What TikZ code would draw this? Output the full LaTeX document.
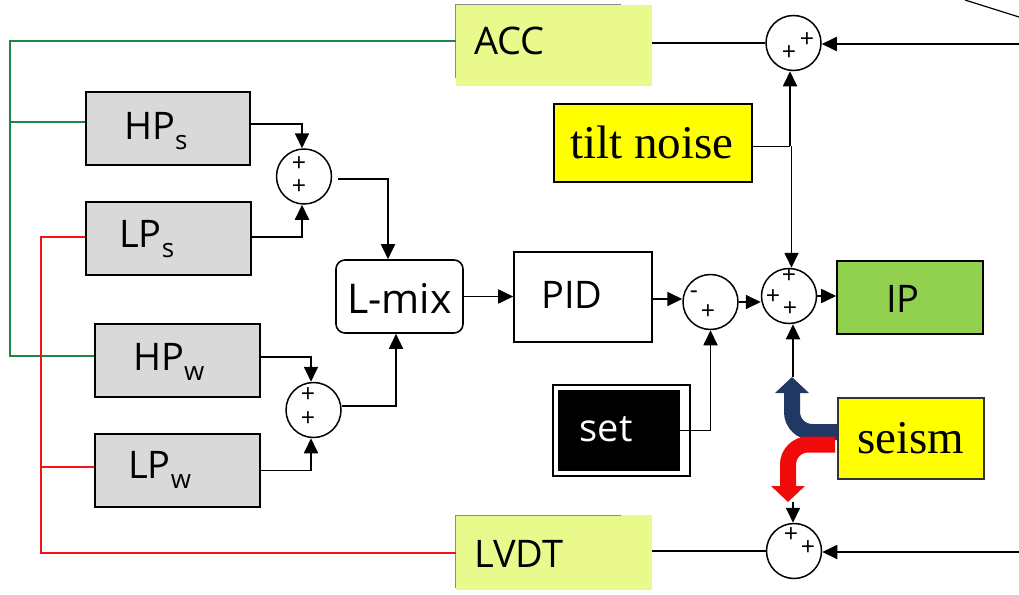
\documentclass[tikz,border=0pt]{standalone}
\usepackage{fontspec}
\setmainfont{Liberation Serif}
\setsansfont{Open Sans}
\usetikzlibrary{arrows.meta}
\definecolor{accol}{RGB}{234,249,140}
\definecolor{grcol}{RGB}{217,217,217}
\definecolor{ipcol}{RGB}{146,208,80}
\definecolor{yelcol}{RGB}{255,255,0}
\definecolor{grnline}{RGB}{30,135,70}
\definecolor{redline}{RGB}{240,20,20}
\definecolor{bluearr}{RGB}{31,56,100}
\definecolor{redarr}{RGB}{240,10,10}
\newcommand\mysub[1]{\raisebox{-10pt}{\fontsize{26}{26}\selectfont #1}}
\begin{document}
\begin{tikzpicture}[x=1pt,y=-1pt,
  conn/.style={line width=1.8pt,-{Triangle[length=15pt,width=14pt]}},
  plainln/.style={line width=1.8pt},
  box/.style={draw,line width=1.6pt,inner sep=0pt},
  sumc/.style={circle,draw,line width=1.5pt,minimum size=55pt,inner sep=0pt,fill=white},
  sg/.style={font=\sffamily\fontsize{25}{25}\selectfont,inner sep=0pt},
  sans/.style={inner sep=0pt,font=\sffamily\fontsize{38}{40}\selectfont},
  serif/.style={inner sep=0pt,font=\rmfamily\fontsize{47}{50}\selectfont},
  grnl/.style={draw=grnline,line width=1.4pt},
  redl/.style={draw=redline,line width=1.4pt},
  faint/.style={draw=black!45,line width=0.8pt},
  seisarrow/.style={line width=16pt,rounded corners=20pt,-{Triangle[length=16pt,width=33pt]}}
]
\useasboundingbox (0,0) rectangle (1019,594);
\fill[white] (0,0) rectangle (1019,594);

% sensor boxes
\node[fill=accol,inner sep=0pt,minimum width=196pt,minimum height=81pt] (ACC) at (554,45.5) {};
\node[fill=accol,inner sep=0pt,minimum width=196pt,minimum height=75pt] (LVDT) at (554,552.5) {};
\draw[faint] (455,78) -- (455,4) -- (621,4);
\draw[faint] (455,588) -- (455,515) -- (621,515);
\node[sans,anchor=base west] (ACCt) at (474,55) {ACC};
\node[sans,anchor=base west] (LVDTt) at (474,567) {LVDT};

% filter boxes
\node[box,fill=grcol,minimum width=164pt,minimum height=73pt] (HPs) at (168,128.5) {};
\node[box,fill=grcol,minimum width=165pt,minimum height=73pt] (LPs) at (168.5,238.5) {};
\node[box,fill=grcol,minimum width=165pt,minimum height=73pt] (HPw) at (177.5,360.5) {};
\node[box,fill=grcol,minimum width=165pt,minimum height=73pt] (LPw) at (177.5,470.5) {};
\node[sans,anchor=base west] (HPst) at (124,139) {HP\mysub{s}};
\node[sans,anchor=base west] (LPst) at (119,247) {LP\mysub{s}};
\node[sans,anchor=base west] (HPwt) at (133,370) {HP\mysub{w}};
\node[sans,anchor=base west] (LPwt) at (128,478) {LP\mysub{w}};

% other boxes
\node[box,rounded corners=9pt,fill=white,minimum width=127pt,minimum height=73pt] (Lmix) at (399.5,296.5) {};
\node[sans,anchor=base,font=\sffamily\fontsize{41}{42}\selectfont] (Lmixt) at (399.5,313) {L-mix};
\node[box,fill=white,minimum width=138pt,minimum height=90pt] (PID) at (583,297) {};
\node[sans,anchor=base] (PIDt) at (572,308) {PID};
\node[box,fill=ipcol,minimum width=146pt,minimum height=73pt] (IP) at (910,297.5) {};
\node[sans,anchor=base] (IPt) at (903,312) {IP};
\node[box,fill=yelcol,minimum width=198pt,minimum height=78pt] (tilt) at (653,143) {};
\node[serif,anchor=base] (tiltt) at (652,158) {tilt noise};
\node[box,draw=black!80,fill=yelcol,minimum width=146pt,minimum height=81pt] (seism) at (911,438.5) {};
\node[serif,anchor=base] (seismt) at (911,453) {seism};
\node[draw,line width=1.4pt,fill=white,inner sep=0pt,minimum width=137pt,minimum height=91pt] (setout) at (621.5,430.5) {};
\node[fill=black,inner sep=0pt,minimum width=122pt,minimum height=81pt] (setin) at (619,430.5) {};
\node[sans,text=white,anchor=base] (sett) at (606,441) {set};

% summing junctions
\node[sumc] (s1) at (304,176.5) {};
\node[sumc] (s2) at (313.5,410) {};
\node[sumc] (sM) at (710.5,302) {};
\node[sumc] (sIP) at (789,296) {};
\node[sumc] (sACC) at (793.5,43) {};
\node[sumc] (sLV) at (794,551) {};
\node[sg] (p1) at (299,164) {+};
\node[sg] (p2) at (299,187) {+};
\node[sg] (p3) at (308,395) {+};
\node[sg] (p4) at (308,419) {+};
\node[sg] (p5) at (694,295) {-};
\node[sg] (p6) at (708,312) {+};
\node[sg] (p7) at (789,276) {+};
\node[sg] (p8) at (773,297) {+};
\node[sg] (p9) at (790,309) {+};
\node[sg] (p10) at (789,53) {+};
\node[sg] (p11) at (807,40) {+};
\node[sg] (p12) at (791,535) {+};
\node[sg] (p13) at (808,548) {+};

% coordinates
\coordinate (gtop) at (10,41);
\coordinate (gmid) at (10,122);
\coordinate (gbot) at (10,356);
\coordinate (rtop) at (41,237);
\coordinate (rmid) at (40,467);
\coordinate (rbot) at (41,553);
\coordinate (tj) at (790,146);
\coordinate (rin1) at (1019,44);
\coordinate (rin2) at (1019,552);
\coordinate (d1) at (965,0);
\coordinate (d2) at (1019,17);
\coordinate (bt) at (792,377);
\coordinate (rt) at (788,502);
\coordinate (v1) at (793,377);
\coordinate (v2) at (793,502);

% green and red wiring
\draw[grnl] (gtop -| ACC.west) -- (gtop) -- (gbot) -- (gbot -| HPw.west);
\draw[grnl] (gmid) -- (gmid -| HPs.west);
\draw[redl] (rbot -| LVDT.west) -- (rbot) -- (rtop) -- (rtop -| LPs.west);
\draw[redl] (rmid) -- (rmid -| LPw.west);

% connectors
\draw[conn] ([yshift=4.5pt]HPs.east) -| ([xshift=-2pt]s1.north);
\draw[conn] ([yshift=1.5pt]LPs.east) -| ([xshift=-2pt]s1.south);
\draw[conn] ([yshift=3.5pt]HPw.east) -| ([xshift=-2.5pt]s2.north);
\draw[conn] (LPw.east) -| ([xshift=-2.5pt]s2.south);
\draw[conn] ([xshift=6pt,yshift=-2.5pt]s1.east) -| ([xshift=-11.5pt]Lmix.north);
\draw[conn] ([yshift=4pt]s2.east) -| ([xshift=-3.5pt]Lmix.south);
\draw[conn] (Lmix.east) -- (Lmix.east -| PID.west);
\draw[conn] ([yshift=3pt]sM.west -| PID.east) -- ([yshift=3pt]sM.west);
\draw[conn] (setin.east) -| (sM.south);
\draw[conn] (sM.east) -- (sM.east -| sIP.west);
\draw[conn] (sIP.east) -- (sIP.east -| IP.west);
\draw[line width=1pt] (tilt.east |- tj) -- (tj);
\draw[conn] (tj) -- (tj |- sACC.south);
\draw[conn] ([xshift=1.5pt]tj) -- ([xshift=1.5pt]tj |- sIP.north);
\draw[plainln] (sACC.west -| ACC.east) -- (sACC.west);
\draw[conn] (rin1) -- (rin1 -| sACC.east);
\draw[plainln] (sLV.west -| LVDT.east) -- (sLV.west);
\draw[conn] (rin2) -- (rin2 -| sLV.east);
\draw[line width=1.2pt] (d1) -- (d2);
\draw[conn] (v1) -- (v1 |- sIP.south);
\draw[conn] (v2) -- (v2 |- sLV.north);

% seism arrows
\draw[seisarrow,draw=bluearr] ([yshift=6.5pt]seism.west) -| (bt);
\draw[seisarrow,draw=redarr] ([xshift=-2pt,yshift=-6pt]seism.west) -| (rt);
\end{tikzpicture}
\end{document}
